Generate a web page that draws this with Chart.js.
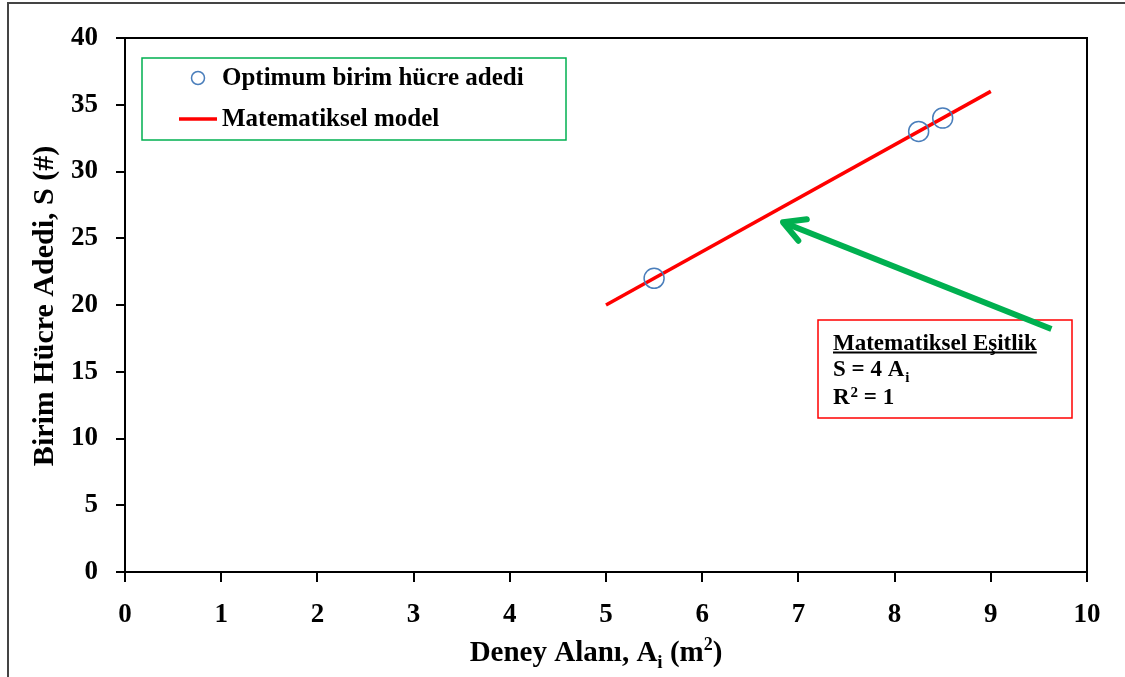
<!DOCTYPE html>
<html>
<head>
<meta charset="utf-8">
<script src="https://cdn.jsdelivr.net/npm/chart.js@4.4.1/dist/chart.umd.min.js"></script>
<style>
html,body{margin:0;padding:0;background:#fff;}
#wrap{width:1125px;height:677px;position:relative;}
</style>
</head>
<body>
<div id="wrap"><canvas id="c" width="1125" height="677"></canvas></div>
<script>
// ---- data ----
const seriesNames = ['Optimum birim hücre adedi', 'Matematiksel model'];
const optArea = [5.5, 8.25, 8.5];
const optCount = [22, 33, 34];
const modelArea = [5, 9];
const modelCount = [20, 36];
const xTicks = [0,1,2,3,4,5,6,7,8,9,10];
const yTicks = [0,5,10,15,20,25,30,35,40];
const yTitle = 'Birim Hücre Adedi, S (#)';
const eqTitle = 'Matematiksel Eşitlik';
const arrowFrom = {x: 9.63, y: 18.2};
const arrowTo = {x: 6.84, y: 26.2};

const SERIF = '"Liberation Serif", "DejaVu Serif", serif';

const decor = {
  id: 'decor',
  beforeDraw(chart) {
    const ctx = chart.ctx;
    ctx.save();
    ctx.fillStyle = '#fff';
    ctx.fillRect(0,0,chart.width,chart.height);
    // outer frame
    ctx.strokeStyle = '#444';
    ctx.lineWidth = 2;
    ctx.beginPath();
    ctx.moveTo(8, 677); ctx.lineTo(8, 3); ctx.lineTo(1125, 3);
    ctx.stroke();
    ctx.restore();
  },
  afterDraw(chart) {
    const ctx = chart.ctx;
    const a = chart.chartArea;
    const xs = chart.scales.x, ys = chart.scales.y;
    ctx.save();
    // plot frame
    ctx.strokeStyle = '#000';
    ctx.lineWidth = 2;
    ctx.strokeRect(a.left, a.top, a.right - a.left, a.bottom - a.top);

    // legend box
    ctx.strokeStyle = '#00b050';
    ctx.lineWidth = 1.5;
    ctx.strokeRect(142, 58, 424, 82);
    ctx.font = 'bold 25px ' + SERIF;
    ctx.fillStyle = '#000';
    ctx.textBaseline = 'middle';
    ctx.textAlign = 'left';
    ctx.beginPath();
    ctx.strokeStyle = '#4a7ebb';
    ctx.lineWidth = 1.5;
    ctx.arc(198, 78, 6.5, 0, Math.PI*2);
    ctx.stroke();
    ctx.fillText(seriesNames[0], 222, 79);
    ctx.strokeStyle = '#ff0000';
    ctx.lineWidth = 3.5;
    ctx.beginPath();
    ctx.moveTo(179, 119); ctx.lineTo(217, 119);
    ctx.stroke();
    ctx.fillText(seriesNames[1], 222, 120);

    // equation box
    ctx.fillStyle = '#fff';
    ctx.fillRect(818, 320, 254, 98);
    ctx.strokeStyle = '#ff0000';
    ctx.lineWidth = 1.5;
    ctx.strokeRect(818, 320, 254, 98);
    ctx.fillStyle = '#000';
    const EQ = 'bold 23px "Liberation Serif", serif';
    const EQS = 'bold 15px "Liberation Serif", serif';
    ctx.font = EQ;
    ctx.textBaseline = 'alphabetic';
    ctx.fillText(eqTitle, 833, 350);
    const w = ctx.measureText(eqTitle).width;
    ctx.fillRect(833, 351.5, w, 2);
    ctx.fillText('S = 4 A', 833, 376);
    let wS = ctx.measureText('S = 4 A').width;
    ctx.font = EQS;
    ctx.fillText('i', 833 + wS + 1, 382);
    ctx.font = EQ;
    ctx.fillText('R', 833, 404);
    let wR = ctx.measureText('R').width;
    ctx.font = EQS;
    ctx.fillText('2', 833 + wR + 1, 397);
    let w2 = ctx.measureText('2').width;
    ctx.font = EQ;
    ctx.fillText(' = 1', 833 + wR + w2 + 1, 404);

    // arrow (drawn over the box)
    const x1 = xs.getPixelForValue(arrowFrom.x), y1 = ys.getPixelForValue(arrowFrom.y);
    const x2 = xs.getPixelForValue(arrowTo.x), y2 = ys.getPixelForValue(arrowTo.y);
    ctx.strokeStyle = '#00b050';
    ctx.lineWidth = 6;
    ctx.lineCap = 'butt';
    ctx.lineJoin = 'round';
    ctx.beginPath();
    ctx.moveTo(x1, y1); ctx.lineTo(x2 + 3, y2 + 1.2);
    ctx.stroke();
    const ang = Math.atan2(y1 - y2, x1 - x2);
    const L = 24, spread = 0.5;
    ctx.lineCap = 'round';
    ctx.beginPath();
    ctx.moveTo(x2 + L*Math.cos(ang - spread), y2 + L*Math.sin(ang - spread));
    ctx.lineTo(x2, y2);
    ctx.lineTo(x2 + L*Math.cos(ang + spread), y2 + L*Math.sin(ang + spread));
    ctx.stroke();
    ctx.lineCap = 'butt';

    // x axis title with sub/superscripts
    const parts = [
      {t: 'Deney Alanı, A', f: 'bold 29px ' + SERIF, dy: 0},
      {t: 'i', f: 'bold 19px ' + SERIF, dy: 7},
      {t: ' (m', f: 'bold 29px ' + SERIF, dy: 0},
      {t: '2', f: 'bold 18px ' + SERIF, dy: -11},
      {t: ')', f: 'bold 29px ' + SERIF, dy: 0}
    ];
    let total = 0;
    parts.forEach(p => { ctx.font = p.f; p.w = ctx.measureText(p.t).width; total += p.w; });
    let cx = (a.left + a.right)/2 - total/2 - 10;
    ctx.textBaseline = 'alphabetic';
    parts.forEach(p => { ctx.font = p.f; ctx.fillText(p.t, cx, 661 + p.dy); cx += p.w; });

    // y axis title
    ctx.save();
    ctx.translate(45, 306);
    ctx.rotate(-Math.PI/2);
    ctx.font = 'bold 30px ' + SERIF;
    ctx.textAlign = 'center';
    ctx.textBaseline = 'middle';
    ctx.fillText(yTitle, 0, 0);
    ctx.restore();

    ctx.restore();
  }
};

new Chart(document.getElementById('c'), {
  type: 'scatter',
  data: {
    datasets: [
      {
        label: seriesNames[1],
        data: modelArea.map((x, i) => ({x, y: modelCount[i]})),
        showLine: true,
        borderColor: '#ff0000',
        borderWidth: 3.5,
        pointRadius: 0,
        fill: false,
        order: 2
      },
      {
        label: seriesNames[0],
        data: optArea.map((x, i) => ({x, y: optCount[i]})),
        pointStyle: 'circle',
        pointRadius: 10,
        pointBorderWidth: 1.5,
        pointBackgroundColor: 'rgba(0,0,0,0)',
        pointBorderColor: '#4a7ebb',
        order: 1
      }
    ]
  },
  options: {
    responsive: false,
    animation: false,
    devicePixelRatio: 1,
    layout: {padding: {left: 0, top: 38, right: 38, bottom: 0}},
    plugins: {legend: {display: false}, tooltip: {enabled: false}},
    scales: {
      x: {
        type: 'linear', min: 0, max: 10,
        afterBuildTicks: s => { s.ticks = xTicks.map(v => ({value: v})); },
        afterFit: s => { s.height = 105; },
        grid: {drawOnChartArea: false, drawTicks: true, tickLength: 10, color: '#000', lineWidth: 2},
        border: {display: true, color: '#000', width: 2},
        ticks: {color: '#000', font: {family: SERIF, size: 27, weight: 'bold'}, padding: 17, maxRotation: 0}
      },
      y: {
        type: 'linear', min: 0, max: 40,
        afterBuildTicks: s => { s.ticks = yTicks.map(v => ({value: v})); },
        afterFit: s => { s.width = 125; },
        grid: {drawOnChartArea: false, drawTicks: true, tickLength: 9, color: '#000', lineWidth: 2},
        border: {display: true, color: '#000', width: 2},
        ticks: {color: '#000', font: {family: SERIF, size: 27, weight: 'bold'}, padding: 18}
      }
    }
  },
  plugins: [decor]
});
</script>
</body>
</html>
